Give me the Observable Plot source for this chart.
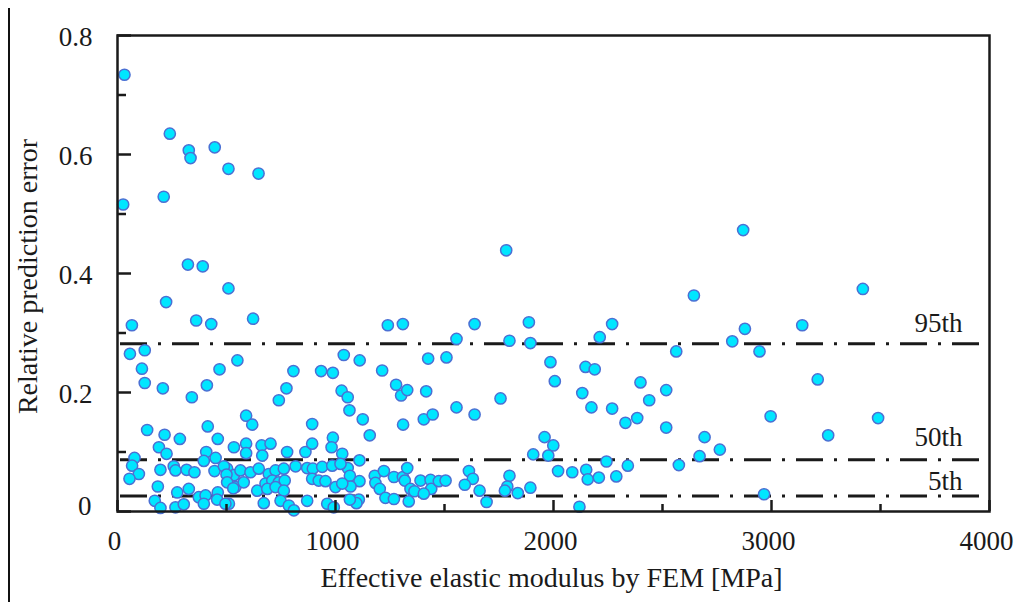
<!DOCTYPE html>
<html><head><meta charset="utf-8">
<script src="https://cdn.jsdelivr.net/npm/d3@7"></script>
<script src="https://cdn.jsdelivr.net/npm/@observablehq/plot@0.6"></script>
<style>
html,body{margin:0;padding:0;background:#fff;}
#wrap{position:relative;width:1018px;height:602px;overflow:hidden;}
#chart{position:absolute;left:0;top:0;}
#chart svg, #chart svg text{font-family:"Liberation Serif","Times New Roman",serif !important;}
#edge{position:absolute;left:8px;top:8px;width:2px;height:594px;background:#111;}
</style></head><body>
<div id="wrap"><div id="chart"></div><div id="edge"></div></div>
<script>
// Effective elastic modulus by FEM [MPa]
const modulus = [
  32,240,327,335,446,509,647,212,26,323,391,509,223,1783,2870,2644,3419,
  66,361,430,622,57,125,112,125,208,341,410,468,550,740,775,807,934,988,1028,
  1240,1309,1638,1887,2269,1555,1798,1894,2212,1038,1111,1214,1425,1509,1986,2006,2147,2189,2399,2517,2439,2517,
  1056,1064,1125,1157,1278,1301,1329,1310,1416,1405,1446,1555,1638,1757,1959,1999,2132,2174,2269,2330,2384,
  2878,2820,3141,2563,2945,3212,2996,3489,2693,3260,2763,2670,2575,2966,
  2243,2341,2086,2150,2157,2208,2288,2119,
  1907,1976,2021,1612,1630,1593,1661,1798,1788,1777,1836,1894,1693,
  1031,1110,1056,1066,1110,1069,1107,1096,1066,1180,1222,1183,1203,1268,1309,1329,1318,1344,1362,1390,1436,1439,1405,1474,1505,1229,1268,1336,
  590,618,893,534,590,661,702,778,862,893,988,982,590,664,
  503,534,564,610,648,694,725,763,817,870,896,939,985,1023,
  541,579,641,679,710,740,767,687,725,763,893,923,954,1000,1031,
  511,671,748,786,809,870,962,992,
  136,216,286,414,460,190,225,78,67,98,55,197,258,266,317,353,407,396,450,445,488,500,503,531,
  185,274,327,373,404,460,457,171,197,266,304,396,495
];
// Relative prediction error
const error = [
  0.734,0.635,0.607,0.594,0.612,0.576,0.568,0.529,0.516,0.415,0.412,0.375,0.352,0.439,0.473,0.363,0.374,
  0.313,0.321,0.315,0.324,0.265,0.271,0.240,0.216,0.207,0.192,0.212,0.239,0.254,0.187,0.207,0.236,0.236,0.233,0.203,
  0.313,0.315,0.315,0.318,0.315,0.290,0.287,0.283,0.293,0.263,0.254,0.237,0.257,0.259,0.251,0.219,0.243,0.239,0.217,0.204,0.187,0.141,
  0.192,0.170,0.155,0.128,0.213,0.195,0.204,0.146,0.202,0.155,0.163,0.175,0.163,0.190,0.125,0.111,0.199,0.175,0.173,0.149,0.157,
  0.307,0.286,0.313,0.269,0.269,0.222,0.160,0.157,0.125,0.128,0.104,0.093,0.078,0.029,
  0.084,0.077,0.066,0.070,0.054,0.057,0.059,0.008,
  0.096,0.094,0.068,0.068,0.055,0.045,0.035,0.060,0.042,0.035,0.031,0.040,0.016,
  0.097,0.086,0.073,0.060,0.051,0.042,0.020,0.014,0.020,0.060,0.068,0.048,0.038,0.058,0.058,0.073,0.052,0.038,0.034,0.052,0.053,0.038,0.030,0.051,0.052,0.023,0.021,0.017,
  0.161,0.146,0.147,0.108,0.114,0.111,0.114,0.100,0.100,0.114,0.124,0.108,0.098,0.094,
  0.072,0.061,0.069,0.066,0.072,0.063,0.069,0.072,0.076,0.073,0.072,0.075,0.077,0.080,
  0.041,0.049,0.035,0.047,0.052,0.049,0.052,0.038,0.041,0.035,0.055,0.052,0.051,0.041,0.047,
  0.013,0.014,0.018,0.010,0.002,0.018,0.013,0.007,
  0.137,0.129,0.122,0.143,0.122,0.108,0.097,0.090,0.077,0.063,0.055,0.070,0.076,0.069,0.070,0.066,0.100,0.085,0.090,0.068,0.076,0.062,0.049,0.039,
  0.042,0.032,0.038,0.024,0.027,0.032,0.020,0.018,0.006,0.007,0.012,0.013,0.013
];
const percentileNames = ["95th", "50th", "5th"];
const percentileValues = [0.282, 0.087, 0.026];
const percentileLineStart = 0;
const percentileLineEnd = 3960;
const percentileLabelX = 3876;
const xTicks = [0, 1000, 2000, 3000, 4000];
const xMinorTicks = [500, 1500, 2500, 3500];
const yTicks = [0, 0.2, 0.4, 0.6, 0.8];
const yMinorTicks = [0.1, 0.3, 0.5, 0.7];
const xLabel = "Effective elastic modulus by FEM [MPa]";
const yLabel = "Relative prediction error";

const points = modulus.map((m, i) => ({modulus: m, error: error[i]}));
const labelDy = [-20, -22, -15];
const ink = "#1a1a1a";
const serif = "Liberation Serif";
const yFmt = d => d === 0 ? "0" : d.toFixed(1);

const chart = Plot.plot({
  width: 1018,
  height: 602,
  marginLeft: 117,
  marginRight: 29,
  marginTop: 35,
  marginBottom: 91,
  x: {domain: [0, 4000], label: null},
  y: {domain: [0, 0.8], label: null},
  style: {fontFamily: serif, fontSize: "27px", color: ink, background: "#fff"},
  marks: [
    Plot.ruleY(percentileValues, {y: d => d, x1: percentileLineStart, x2: percentileLineEnd, stroke: ink, strokeWidth: 3, strokeDasharray: "27,11,3,11", strokeDashoffset: -3}),
    Plot.dot(points, {x: "modulus", y: "error", r: 5.6, fill: "#00e6ff", stroke: "#4b70d4", strokeWidth: 1.5}),
    ...percentileNames.map((name, i) =>
      Plot.text([name], {text: d => d, x: percentileLabelX, y: percentileValues[i], dy: labelDy[i], textAnchor: "end", lineAnchor: "middle", fontSize: 27, fontFamily: serif, fill: ink})
    ),
    Plot.frame({stroke: ink, strokeWidth: 2.5}),
    Plot.axisX({ticks: xTicks, tickSize: -11, fill: "none", stroke: ink, strokeWidth: 2.5, label: null}),
    Plot.axisX({ticks: xMinorTicks, tickSize: -7, fill: "none", stroke: ink, strokeWidth: 2.5, label: null}),
    Plot.axisX({ticks: xTicks, tickSize: 0, tickPadding: 19, dx: -3, tickFormat: d => String(d), label: null, fill: ink, fontFamily: serif}),
    Plot.axisY({ticks: yTicks, tickSize: -14, fill: "none", stroke: ink, strokeWidth: 2.5, label: null}),
    Plot.axisY({ticks: yMinorTicks, tickSize: -9, fill: "none", stroke: ink, strokeWidth: 2.5, label: null}),
    Plot.axisY({ticks: yTicks.filter(d => d !== 0), tickSize: 0, tickPadding: 25, dy: 2, tickFormat: yFmt, label: null, fill: ink, fontFamily: serif}),
    Plot.axisY({ticks: yTicks.filter(d => d === 0), tickSize: 0, tickPadding: 26, dy: -5, tickFormat: yFmt, label: null, fill: ink, fontFamily: serif}),
    Plot.text([xLabel], {text: d => d, frameAnchor: "bottom", textAnchor: "middle", dx: -2, dy: 67, lineAnchor: "middle", fontSize: 28, fontFamily: serif, fill: ink}),
    Plot.text([yLabel], {text: d => d, frameAnchor: "left", textAnchor: "middle", dx: -89, dy: 3, rotate: -90, lineAnchor: "middle", fontSize: 28, fontFamily: serif, fill: ink})
  ]
});
document.getElementById("chart").appendChild(chart);
</script>
</body></html>
